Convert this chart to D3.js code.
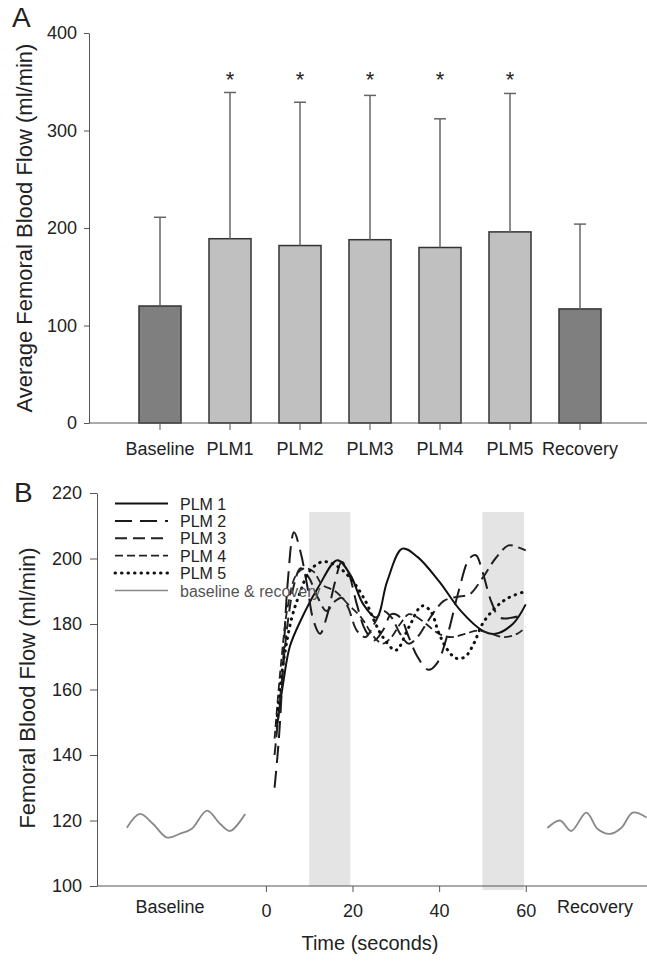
<!DOCTYPE html>
<html>
<head>
<meta charset="utf-8">
<script src="https://cdn.jsdelivr.net/npm/d3@7"></script>
<style>
  html, body { margin: 0; padding: 0; background: #fff; }
  svg { display: block; font-family: "Liberation Sans", Arial, sans-serif; }
  .axis text { fill: #222; }
</style>
</head>
<body>
<svg id="chart" width="647" height="961"></svg>
<script>
// ---- panel A data
const barCategories = ['Baseline', 'PLM1', 'PLM2', 'PLM3', 'PLM4', 'PLM5', 'Recovery'];
const barMeans = [120, 189, 182, 188, 180, 196, 117];
const barSD = [91, 150, 147, 148, 132, 142, 87];
const barSignificant = [false, true, true, true, true, true, false];
const barYTicks = [0, 100, 200, 300, 400];

// ---- panel B data (time in seconds, flow in ml/min)
const plm1 = [[2.5,148],[4,162],[5.5,173],[8,181],[12,191],[16.5,199.5],[19.5,195],[22.5,186],[25.5,182],[28,193],[31.5,203],[35,200.5],[40,193],[45,184],[50,178],[53,177],[57,180],[60,186]];
const plm2 = [[2,130],[3,145],[4,168],[5,192],[6.5,208],[8,202],[9.5,192],[11,181],[12.5,177],[14,182],[16,193],[17.5,199],[19,196],[21,186],[23,178],[25,175],[27,178],[29,183],[31,182],[33,176],[35,170],[37.5,166],[39.5,168],[42,177],[44.5,190],[47,200],[48.5,201],[50,196],[52,187],[54,182],[57,182],[60,183]];
const plm3 = [[2,140],[3.5,160],[5,180],[6.5,192],[8,197],[10,194],[12,188],[14,184],[16,187],[17.5,188],[19,185],[21,178],[23,176],[25,180],[27,184],[29,182],[31,177],[33,174],[35,176],[37,180],[39,184],[41,187],[43,188],[45,188.5],[47,189],[50,194],[53,200],[56,204],[58,203.5],[60,202.5]];
const plm4 = [[2,145],[3.5,168],[5,185],[7,195],[9,197],[11,196],[13,192],[16,190],[19,186],[22,182],[25,176],[27,174],[29,176],[31,180],[33,183],[35,182],[37,180],[40,177],[43,176],[46,177],[49,178],[52,177],[55,176],[58,177],[60,179]];
const plm5 = [[2.5,150],[4,168],[6,182],[8,190],[10,196],[13,199],[16,198],[19.5,194],[23,187],[25,181],[27,176],[30,172],[33,179],[36,185.5],[38,184],[40,177],[42,172],[44,169.5],[46,170],[48,174],[50,180],[53,185],[56,188],[60,190]];
const baselineTrace = [[-32.1,117.8],[-29.1,122],[-26.1,119],[-22.8,114.8],[-19.8,116],[-17.1,117.5],[-13.6,123],[-10.6,119],[-8.3,116.8],[-4.8,122]];
const recoveryTrace = [[65,117.7],[67.9,120],[70.5,116.8],[74,122.4],[76.6,117.4],[79.4,115.9],[82.1,117.8],[84.7,122.4],[87.9,120.9]];
const shadedWindows = [[10, 19.5], [50, 59.6]];
const shadeTop = 214.2;
const lineYTicks = [100, 120, 140, 160, 180, 200, 220];
const timeTicks = [0, 20, 40, 60];
const legendNames = ['PLM 1', 'PLM 2', 'PLM 3', 'PLM 4', 'PLM 5', 'baseline & recovery'];

const svg = d3.select('#chart');
const axisColor = '#555';

// ================= Panel A =================
const xA = d3.scaleBand()
  .domain(barCategories)
  .range([125, 615])
  .paddingInner(0.4)
  .paddingOuter(0.2);
const yA = d3.scaleLinear().domain([0, 400]).range([423, 33]);

const gA = svg.append('g');

// bars
gA.selectAll('rect.bar')
  .data(barCategories)
  .enter()
  .append('rect')
  .attr('class', 'bar')
  .attr('x', d => xA(d))
  .attr('width', xA.bandwidth())
  .attr('y', (d, i) => yA(barMeans[i]))
  .attr('height', (d, i) => yA(0) - yA(barMeans[i]))
  .attr('fill', (d, i) => (i === 0 || i === 6) ? '#7f7f7f' : '#c0c0c0')
  .attr('stroke', '#333')
  .attr('stroke-width', 1.5);

// error bars (upper only)
const errG = gA.selectAll('g.err')
  .data(barCategories)
  .enter()
  .append('g')
  .attr('class', 'err')
  .attr('stroke', '#666')
  .attr('stroke-width', 1.5);
errG.append('line')
  .attr('x1', d => xA(d) + xA.bandwidth() / 2)
  .attr('x2', d => xA(d) + xA.bandwidth() / 2)
  .attr('y1', (d, i) => yA(barMeans[i]))
  .attr('y2', (d, i) => yA(barMeans[i] + barSD[i]));
errG.append('line')
  .attr('x1', d => xA(d) + xA.bandwidth() / 2 - 6)
  .attr('x2', d => xA(d) + xA.bandwidth() / 2 + 6)
  .attr('y1', (d, i) => yA(barMeans[i] + barSD[i]))
  .attr('y2', (d, i) => yA(barMeans[i] + barSD[i]));

// significance stars
gA.selectAll('text.star')
  .data(barCategories.filter((d, i) => barSignificant[i]))
  .enter()
  .append('text')
  .attr('class', 'star')
  .attr('x', d => xA(d) + xA.bandwidth() / 2)
  .attr('y', yA(355) + 10)
  .attr('text-anchor', 'middle')
  .attr('font-size', 22)
  .attr('fill', '#222')
  .text('*');

// axes A
const yAxisA = gA.append('g')
  .attr('class', 'axis')
  .attr('transform', 'translate(89,0)')
  .call(d3.axisLeft(yA).tickValues(barYTicks).tickSize(5).tickPadding(7).tickSizeOuter(0));
yAxisA.selectAll('text').attr('font-size', 18);

const xAxisA = gA.append('g')
  .attr('class', 'axis')
  .attr('transform', 'translate(0,423)')
  .call(d3.axisBottom(xA).tickSize(7).tickPadding(12).tickSizeOuter(0));
xAxisA.selectAll('text').attr('font-size', 18);
xAxisA.select('.domain').remove();
gA.append('line')
  .attr('x1', 89).attr('x2', 647)
  .attr('y1', 423).attr('y2', 423);

gA.selectAll('.axis path, .axis line').attr('stroke', axisColor);
gA.selectAll('line').filter(function () { return !this.closest('.err'); }).attr('stroke', axisColor);

gA.append('text')
  .attr('transform', 'translate(32,228) rotate(-90)')
  .attr('text-anchor', 'middle')
  .attr('font-size', 22)
  .attr('fill', '#222')
  .text('Average Femoral Blood Flow (ml/min)');

gA.append('text')
  .attr('x', 12).attr('y', 27)
  .attr('font-size', 28)
  .attr('fill', '#222')
  .text('A');

// ================= Panel B =================
const xB = d3.scaleLinear().domain([-39, 88]).range([97, 647]);
const yB = d3.scaleLinear().domain([100, 220]).range([886, 493]);
const gB = svg.append('g');

// shaded windows
gB.selectAll('rect.shade')
  .data(shadedWindows)
  .enter()
  .append('rect')
  .attr('class', 'shade')
  .attr('x', d => xB(d[0]))
  .attr('width', d => xB(d[1]) - xB(d[0]))
  .attr('y', yB(shadeTop))
  .attr('height', (d, i) => yB(100) - yB(shadeTop) + (i === 1 ? 4 : 0))
  .attr('fill', '#e4e4e4');

const line = d3.line()
  .x(d => xB(d[0]))
  .y(d => yB(d[1]))
  .curve(d3.curveCatmullRom.alpha(0.5));

const seriesStyle = [
  { data: plm1, dash: null, width: 2, color: '#111', cap: 'butt' },
  { data: plm2, dash: '17,8', width: 2, color: '#1a1a1a', cap: 'butt' },
  { data: plm3, dash: '12,6', width: 2, color: '#222', cap: 'butt' },
  { data: plm4, dash: '8,4', width: 1.8, color: '#222', cap: 'butt' },
  { data: plm5, dash: '0.5,6', width: 3, color: '#111', cap: 'round' }
];

gB.append('path')
  .attr('d', line(baselineTrace))
  .attr('fill', 'none').attr('stroke', '#888').attr('stroke-width', 1.8);
gB.append('path')
  .attr('d', line(recoveryTrace))
  .attr('fill', 'none').attr('stroke', '#888').attr('stroke-width', 1.8);

gB.selectAll('path.plm')
  .data(seriesStyle)
  .enter()
  .append('path')
  .attr('class', 'plm')
  .attr('d', d => line(d.data))
  .attr('fill', 'none')
  .attr('stroke', d => d.color)
  .attr('stroke-width', d => d.width)
  .attr('stroke-dasharray', d => d.dash)
  .attr('stroke-linecap', d => d.cap);

// axes B
const yAxisB = gB.append('g')
  .attr('class', 'axis')
  .attr('transform', 'translate(97,0)')
  .call(d3.axisLeft(yB).tickValues(lineYTicks).tickSize(7).tickPadding(8).tickSizeOuter(0));
yAxisB.selectAll('text').attr('font-size', 18);

const xAxisB = gB.append('g')
  .attr('class', 'axis')
  .attr('transform', 'translate(0,886)')
  .call(d3.axisBottom(xB).tickValues(timeTicks).tickSize(6).tickPadding(12).tickSizeOuter(0));
xAxisB.selectAll('text').attr('font-size', 18);
xAxisB.select('.domain').remove();
gB.append('line')
  .attr('x1', 97).attr('x2', 647)
  .attr('y1', 886).attr('y2', 886);
gB.selectAll('.axis path, .axis line').attr('stroke', axisColor);
gB.selectAll('g > line').attr('stroke', axisColor);

gB.append('text')
  .attr('x', 170).attr('y', 913)
  .attr('text-anchor', 'middle').attr('font-size', 18).attr('fill', '#222')
  .text('Baseline');
gB.append('text')
  .attr('x', 595).attr('y', 913)
  .attr('text-anchor', 'middle').attr('font-size', 18).attr('fill', '#222')
  .text('Recovery');

gB.append('text')
  .attr('x', 370).attr('y', 950)
  .attr('text-anchor', 'middle').attr('font-size', 20).attr('fill', '#222')
  .text('Time (seconds)');

gB.append('text')
  .attr('transform', 'translate(35,688) rotate(-90)')
  .attr('text-anchor', 'middle')
  .attr('font-size', 22)
  .attr('fill', '#222')
  .text('Femoral Blood Flow (ml/min)');

gB.append('text')
  .attr('x', 14).attr('y', 502)
  .attr('font-size', 28)
  .attr('fill', '#222')
  .text('B');

// legend
const legendStyles = seriesStyle.concat([{ dash: null, width: 1.5, color: '#888', cap: 'butt' }]);
const legend = gB.append('g');
const legendRow = legend.selectAll('g')
  .data(legendNames)
  .enter()
  .append('g')
  .attr('transform', (d, i) => `translate(0,${503.5 + i * 17.4})`);
legendRow.append('line')
  .attr('x1', 115).attr('x2', 168)
  .attr('y1', 0).attr('y2', 0)
  .attr('stroke', (d, i) => legendStyles[i].color)
  .attr('stroke-width', (d, i) => legendStyles[i].width)
  .attr('stroke-dasharray', (d, i) => legendStyles[i].dash)
  .attr('stroke-linecap', (d, i) => legendStyles[i].cap);
legendRow.append('text')
  .attr('x', 180).attr('y', 6)
  .attr('font-size', 16)
  .attr('fill', (d, i) => i === 5 ? '#555' : '#222')
  .text(d => d);
</script>
</body>
</html>
